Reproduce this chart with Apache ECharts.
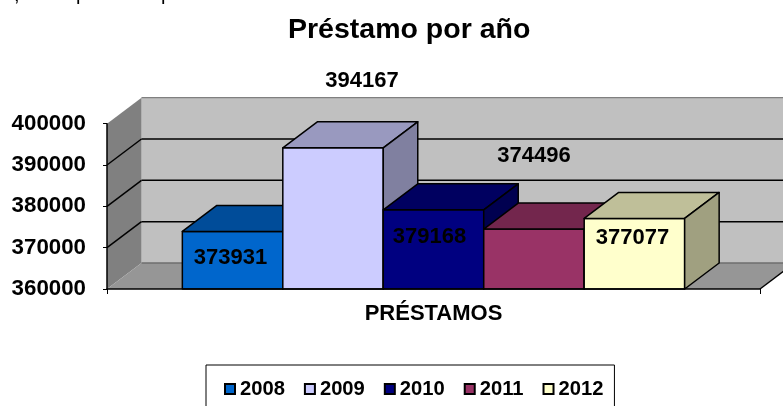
<!DOCTYPE html>
<html>
<head>
<meta charset="utf-8">
<style>html,body{margin:0;padding:0;background:#fff;overflow:hidden}#c{width:783px;height:406px}</style>
<script src="https://cdn.jsdelivr.net/npm/echarts@6/dist/echarts.min.js"></script>
</head>
<body>
<div id="c"></div>
<script>
const categories = ['PRÉSTAMOS'];
const years = ['2008', '2009', '2010', '2011', '2012'];
const values = [373931, 394167, 379168, 374496, 377077];
const yTicks = [360000, 370000, 380000, 390000, 400000];

const frontColors = ['#0066CC', '#CCCCFF', '#000080', '#993366', '#FFFFCC'];
const topColors = ['#004C99', '#9999BF', '#000060', '#73264D', '#BFBF99'];
const sideColors = ['#004080', '#8080A0', '#000050', '#602040', '#A0A080'];
const labelShift = [[-2, 27], [29, -67], [-4, 27], [0, -73], [-2, 20]];

const FONT = '"Liberation Sans", Arial, sans-serif';
const DX = 34.5, DY = -26, EDGE = '#000';
const chart = echarts.init(document.getElementById('c'), null, {renderer: 'canvas'});

function poly(points, fill, stroke, lw) {
  return {type: 'polygon', shape: {points}, style: {fill, stroke: stroke || null, lineWidth: lw || 0, lineJoin: 'round'}};
}
function line(a, b, stroke, lw) {
  return {type: 'line', shape: {x1: a[0], y1: a[1], x2: b[0], y2: b[1]}, style: {stroke, lineWidth: lw}};
}
function renderFrame(params, api) {
  const c = api.coord([0, yTicks[0]]);
  const band = api.size([1, 0])[0];
  const L = c[0] - band / 2, R = c[0] + band / 2, B = c[1];
  const T = api.coord([0, yTicks[yTicks.length - 1]])[1];
  const kids = [
    poly([[L + DX, T + DY], [R + DX, T + DY], [R + DX, B + DY], [L + DX, B + DY]], '#C0C0C0'),
    poly([[L, T], [L + DX, T + DY], [L + DX, B + DY], [L, B]], '#808080'),
    poly([[L, B], [L + DX, B + DY], [R + DX, B + DY], [R, B]], '#969696'),
    line([L + DX, T + DY], [R + DX, T + DY], '#808080', 1.3),
    line([L + DX, B + DY], [R + DX, B + DY], '#6E6E6E', 1.5)
  ];
  yTicks.slice(1, -1).forEach(v => {
    const y = api.coord([0, v])[1];
    kids.push(line([L, y], [L + DX, y + DY], EDGE, 1.5));
    kids.push(line([L + DX, y + DY], [R + DX, y + DY], EDGE, 1.5));
  });
  kids.push(line([R, B], [R + DX, B + DY], EDGE, 1.5));
  return {type: 'group', children: kids};
}
function renderBar(i) {
  return function (params, api) {
    const top = api.coord([0, api.value(0)]);
    const base = api.coord([0, yTicks[0]]);
    const w = api.size([1, 0])[0] / 6.5;
    const x0 = top[0] + (i - years.length / 2) * w, x1 = x0 + w;
    const y0 = top[1], y1 = base[1];
    const s = labelShift[i];
    return {type: 'group', children: [
      poly([[x0, y0], [x1, y0], [x1, y1], [x0, y1]], frontColors[i], '#000', 1.5),
      poly([[x0, y0], [x0 + DX, y0 + DY], [x1 + DX, y0 + DY], [x1, y0]], topColors[i], '#000', 1.5),
      poly([[x1, y0], [x1 + DX, y0 + DY], [x1 + DX, y1 + DY], [x1, y1]], sideColors[i], '#000', 1.5),
      {type: 'text', z2: 100, style: {
        x: (x0 + x1) / 2 + s[0], y: y0 + s[1],
        text: String(api.value(0)), fill: '#000', align: 'center', verticalAlign: 'middle',
        font: 'bold 22px ' + FONT
      }}
    ]};
  };
}
const series = [{
  type: 'custom', name: 'frame', silent: true, clip: false, z: 1,
  data: [[0]], encode: {x: 0}, renderItem: renderFrame
}].concat(years.map((y, i) => ({
  type: 'custom', name: y, clip: false, z: 3, silent: true,
  itemStyle: {color: frontColors[i]},
  data: [[values[i]]], encode: {y: 0}, renderItem: renderBar(i)
})));

chart.setOption({
  animation: false,
  backgroundColor: '#fff',
  title: {text: 'Préstamo por año', left: 288, top: 16, padding: 0,
    textStyle: {fontFamily: FONT, fontWeight: 'bold', fontSize: 28.5, color: '#000'}},
  grid: {left: 107, right: 23, top: 123.7, bottom: 117, containLabel: false},
  xAxis: {type: 'category', data: categories,
    axisLine: {show: true, lineStyle: {color: '#000', width: 1.5}},
    axisTick: {show: true, length: 5, alignWithLabel: false, lineStyle: {color: '#000', width: 1}},
    axisLabel: {margin: 14, interval: 0, color: '#000', fontFamily: FONT, fontWeight: 'bold', fontSize: 22},
    splitLine: {show: false}, z: 5},
  yAxis: {type: 'value', min: 360000, max: 400000, interval: 10000,
    axisLine: {show: true, lineStyle: {color: '#000', width: 1.5}},
    axisTick: {show: true, length: 4, lineStyle: {color: '#000', width: 1}},
    axisLabel: {margin: 21, color: '#000', fontFamily: FONT, fontWeight: 'bold', fontSize: 22.3, formatter: v => String(v)},
    splitLine: {show: false}, z: 5},
  legend: {data: years, left: 206, top: 365, orient: 'horizontal', icon: 'rect',
    padding: [14, 11, 50, 18], itemGap: 19, itemWidth: 10, itemHeight: 10, selectedMode: false,
    borderColor: '#000', borderWidth: 1, backgroundColor: '#fff',
    itemStyle: {borderColor: '#000', borderWidth: 2},
    textStyle: {fontFamily: FONT, fontWeight: 'bold', fontSize: 20.2, color: '#000'}},
  graphic: [
    {type: 'text', left: 14, top: -15, style: {text: ',', font: '20px ' + FONT, fill: '#000'}},
    {type: 'text', left: 76, top: -16, style: {text: 'p', font: '20px ' + FONT, fill: '#000'}},
    {type: 'text', left: 161, top: -16, style: {text: 'p', font: '20px ' + FONT, fill: '#000'}}
  ],
  series
});
</script>
</body>
</html>
